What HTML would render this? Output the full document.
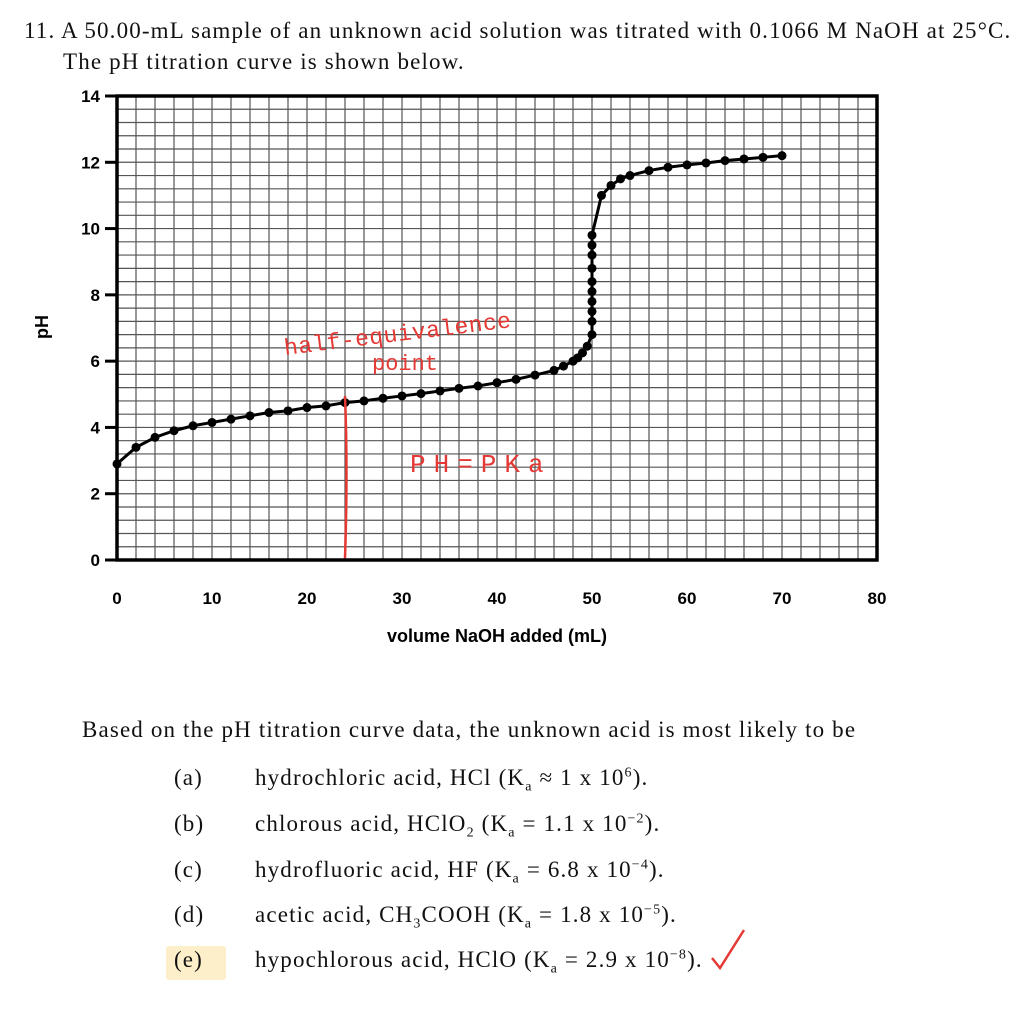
<!DOCTYPE html>
<html><head><meta charset="utf-8"><style>
body{margin:0;width:1024px;height:1016px;background:#fff;position:relative;overflow:hidden;font-family:"Liberation Serif",serif;color:#111}
.t{position:absolute;font-size:23px;letter-spacing:1.15px;white-space:nowrap}
.t span.o{position:absolute;left:81px}
svg{position:absolute;left:0;top:0}
</style></head><body>
<div class="t" style="left:24px;top:18px">11. A 50.00-mL sample of an unknown acid solution was titrated with 0.1066 M NaOH at 25°C.</div>
<div class="t" style="left:63px;top:49px">The pH titration curve is shown below.</div>
<svg id="chart" width="1024" height="680"></svg>
<div class="t" style="left:82px;top:717px">Based on the pH titration curve data, the unknown acid is most likely to be</div>
<div style="position:absolute;left:166px;top:946px;width:60px;height:34px;background:#fcefc9;border-radius:3px"></div>
<div class="t" style="left:174px;top:765px">(a)<span class="o">hydrochloric acid, HCl (K<sub style="font-size:14px">a</sub> ≈ 1 x 10<sup style="font-size:14px">6</sup>).</span></div>
<div class="t" style="left:174px;top:811px">(b)<span class="o">chlorous acid, HClO<sub style="font-size:14px">2</sub> (K<sub style="font-size:14px">a</sub> = 1.1 x 10<sup style="font-size:14px">−2</sup>).</span></div>
<div class="t" style="left:174px;top:857px">(c)<span class="o">hydrofluoric acid, HF (K<sub style="font-size:14px">a</sub> = 6.8 x 10<sup style="font-size:14px">−4</sup>).</span></div>
<div class="t" style="left:174px;top:902px">(d)<span class="o">acetic acid, CH<sub style="font-size:14px">3</sub>COOH (K<sub style="font-size:14px">a</sub> = 1.8 x 10<sup style="font-size:14px">−5</sup>).</span></div>
<div class="t" style="left:174px;top:947px">(e)<span class="o">hypochlorous acid, HClO (K<sub style="font-size:14px">a</sub> = 2.9 x 10<sup style="font-size:14px">−8</sup>).</span></div>
<svg width="1024" height="1016" style="pointer-events:none"><path d="M712 958 L720 968 L744 930" stroke="#e53935" stroke-width="2.5" fill="none"/></svg>
<script>
const xs=[0,2,4,6,8,10,12,14,16,18,20,22,24,26,28,30,32,34,36,38,40,42,44,46,47,48,48.5,49,49.5,50,50,50,50,50,50,50,50,50,50,51,52,53,54,56,58,60,62,64,66,68,70];
const phs=[2.9,3.4,3.7,3.9,4.05,4.15,4.25,4.35,4.45,4.5,4.6,4.65,4.75,4.8,4.88,4.95,5.02,5.1,5.18,5.25,5.35,5.45,5.58,5.72,5.85,6.0,6.1,6.25,6.45,6.8,7.2,7.5,7.8,8.1,8.4,8.8,9.2,9.5,9.8,11.0,11.3,11.5,11.6,11.75,11.85,11.92,11.98,12.05,12.1,12.15,12.2];
const xTicks=[0,10,20,30,40,50,60,70,80];
const yTicks=[0,2,4,6,8,10,12,14];
const X0=117,X1=877,Y0=560,Y1=96;
const sx=v=>X0+(X1-X0)*v/80, sy=v=>Y0-(Y0-Y1)*v/14;
const svg=document.getElementById('chart');const NS='http://www.w3.org/2000/svg';
function mk(t,a,p){const e=document.createElementNS(NS,t);for(const k in a)e.setAttribute(k,a[k]);(p||svg).appendChild(e);return e;}
for(let v=2;v<80;v+=2){const l=mk('line',{x1:sx(v),x2:sx(v),y1:Y1,y2:Y0,stroke:'#555','stroke-width':1.2});

}
for(let i=1;i<35;i++){const v=i*0.4;const l=mk('line',{x1:X0,x2:X1,y1:sy(v),y2:sy(v),stroke:'#555','stroke-width':1.2});

}
const fr=mk('rect',{x:X0,y:Y1,width:X1-X0,height:Y0-Y1,fill:'none',stroke:'#000','stroke-width':3.5});


xTicks.forEach(v=>{const t=mk('text',{x:sx(v),y:604,'text-anchor':'middle','font-family':'Liberation Sans','font-weight':'bold','font-size':17});t.textContent=v;

});
yTicks.forEach(v=>{const t=mk('text',{x:100,y:sy(v)+6,'text-anchor':'end','font-family':'Liberation Sans','font-weight':'bold','font-size':17});t.textContent=v;


const k=mk('line',{x1:105,x2:X0,y1:sy(v),y2:sy(v),stroke:'#000','stroke-width':3});

});
const xl=mk('text',{x:497,y:642,'text-anchor':'middle','font-family':'Liberation Sans','font-weight':'bold','font-size':18});xl.textContent='volume NaOH added (mL)';


const yl=mk('text',{x:0,y:0,transform:'translate(48,327) rotate(-90)','text-anchor':'middle','font-family':'Liberation Sans','font-weight':'bold','font-size':18});yl.textContent='pH';


const pl=mk('polyline',{points:xs.map((x,i)=>sx(x)+','+sy(phs[i])).join(' '),fill:'none',stroke:'#000','stroke-width':3});


xs.forEach((x,i)=>{const c=mk('circle',{cx:sx(x),cy:sy(phs[i]),r:4.5,fill:'#000'});

});
const rl=mk('path',{d:'M345 396 Q348 470 345 558',stroke:'#e53935','stroke-width':2.5,fill:'none'});


const a1=mk('text',{x:285,y:355,transform:'rotate(-7 285 355)',fill:'#e53935','font-family':'Liberation Mono','font-size':23,'letter-spacing':'0.5'});a1.textContent='half-equivalence';


const a2=mk('text',{x:372,y:370,fill:'#e53935','font-family':'Liberation Mono','font-size':22});a2.textContent='point';


const a3=mk('text',{x:410,y:472,fill:'#e53935','font-family':'Liberation Mono','font-size':26,'letter-spacing':'8'});a3.textContent='PH=PKa';


</script>
</body></html>
